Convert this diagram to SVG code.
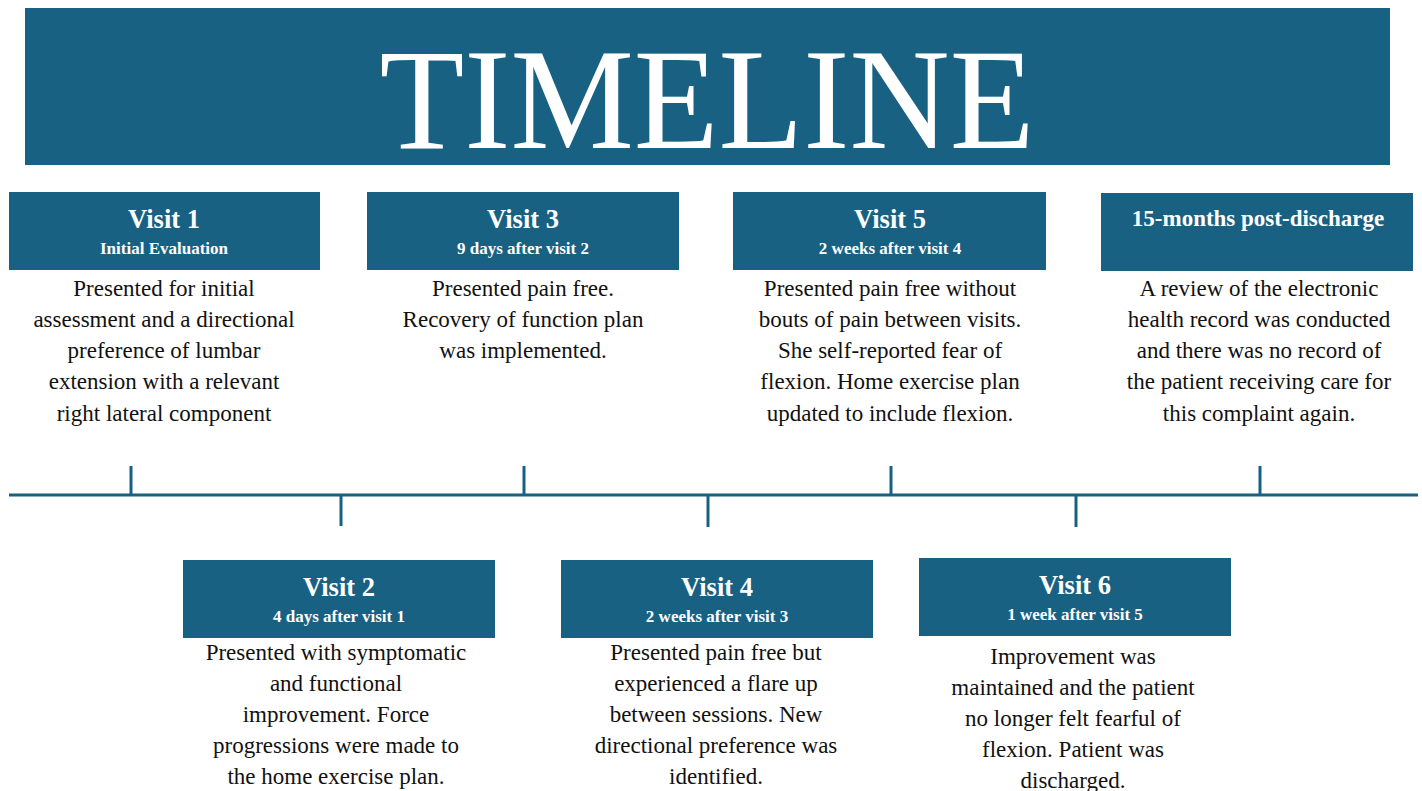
<svg xmlns="http://www.w3.org/2000/svg" width="1422" height="791" viewBox="0 0 1422 791">
<style>
.box{fill:#186183}
.ttl{font-family:"Liberation Serif",serif;font-weight:bold;font-size:26.5px;fill:#fff;text-anchor:middle}
.sub{font-family:"Liberation Serif",serif;font-weight:bold;font-size:17px;fill:#fff;text-anchor:middle}
.body{font-family:"Liberation Serif",serif;font-size:23px;fill:#111;text-anchor:middle}
.ln{stroke:#186183;stroke-width:3;fill:none}
</style>
<rect width="1422" height="791" fill="#fff"/>
<g id="title">
<rect class="box" x="25" y="8" width="1365" height="157"/>
<text x="707" y="148" font-family="Liberation Serif, serif" font-size="145" fill="#fff" text-anchor="middle" textLength="655" lengthAdjust="spacingAndGlyphs">TIMELINE</text>
</g>
<g id="connectors">
<line class="ln" x1="9" y1="495" x2="1418" y2="495"/>
<line class="ln" x1="131" y1="466" x2="131" y2="495"/>
<line class="ln" x1="524" y1="466" x2="524" y2="495"/>
<line class="ln" x1="891" y1="466" x2="891" y2="495"/>
<line class="ln" x1="1260" y1="466" x2="1260" y2="495"/>
<line class="ln" x1="341" y1="495" x2="341" y2="526"/>
<line class="ln" x1="708" y1="495" x2="708" y2="527"/>
<line class="ln" x1="1076" y1="495" x2="1076" y2="527"/>
</g>
<g id="visit1">
<rect class="box" x="9" y="192" width="311" height="78"/>
<text class="ttl" x="164" y="228">Visit 1</text>
<text class="sub" x="164" y="254">Initial Evaluation</text>
<text class="body" x="164" y="296">Presented for initial</text>
<text class="body" x="164" y="327">assessment and a directional</text>
<text class="body" x="164" y="358">preference of lumbar</text>
<text class="body" x="164" y="389">extension with a relevant</text>
<text class="body" x="164" y="421">right lateral component</text>
</g>
<g id="visit3">
<rect class="box" x="367" y="192" width="312" height="78"/>
<text class="ttl" x="523" y="228">Visit 3</text>
<text class="sub" x="523" y="254">9 days after visit 2</text>
<text class="body" x="523" y="296">Presented pain free.</text>
<text class="body" x="523" y="327">Recovery of function plan</text>
<text class="body" x="523" y="358">was implemented.</text>
</g>
<g id="visit5">
<rect class="box" x="733" y="192" width="313" height="78"/>
<text class="ttl" x="890" y="228">Visit 5</text>
<text class="sub" x="890" y="254">2 weeks after visit 4</text>
<text class="body" x="890" y="296">Presented pain free without</text>
<text class="body" x="890" y="327">bouts of pain between visits.</text>
<text class="body" x="890" y="358">She self-reported fear of</text>
<text class="body" x="890" y="389">flexion. Home exercise plan</text>
<text class="body" x="890" y="421">updated to include flexion.</text>
</g>
<g id="post">
<rect class="box" x="1101" y="193" width="312" height="78"/>
<text class="ttl" x="1258" y="226" style="font-size:23px">15-months post-discharge</text>
<text class="body" x="1259" y="296">A review of the electronic</text>
<text class="body" x="1259" y="327">health record was conducted</text>
<text class="body" x="1259" y="358">and there was no record of</text>
<text class="body" x="1259" y="389">the patient receiving care for</text>
<text class="body" x="1259" y="421">this complaint again.</text>
</g>
<g id="visit2">
<rect class="box" x="183" y="560" width="312" height="78"/>
<text class="ttl" x="339" y="596">Visit 2</text>
<text class="sub" x="339" y="622">4 days after visit 1</text>
<text class="body" x="336" y="660">Presented with symptomatic</text>
<text class="body" x="336" y="691">and functional</text>
<text class="body" x="336" y="722">improvement. Force</text>
<text class="body" x="336" y="753">progressions were made to</text>
<text class="body" x="336" y="784">the home exercise plan.</text>
</g>
<g id="visit4">
<rect class="box" x="561" y="560" width="312" height="78"/>
<text class="ttl" x="717" y="596">Visit 4</text>
<text class="sub" x="717" y="622">2 weeks after visit 3</text>
<text class="body" x="716" y="660">Presented pain free but</text>
<text class="body" x="716" y="691">experienced a flare up</text>
<text class="body" x="716" y="722">between sessions. New</text>
<text class="body" x="716" y="753">directional preference was</text>
<text class="body" x="716" y="784">identified.</text>
</g>
<g id="visit6">
<rect class="box" x="919" y="558" width="312" height="78"/>
<text class="ttl" x="1075" y="594">Visit 6</text>
<text class="sub" x="1075" y="620">1 week after visit 5</text>
<text class="body" x="1073" y="664">Improvement was</text>
<text class="body" x="1073" y="695">maintained and the patient</text>
<text class="body" x="1073" y="726">no longer felt fearful of</text>
<text class="body" x="1073" y="757">flexion. Patient was</text>
<text class="body" x="1073" y="788">discharged.</text>
</g>
</svg>
